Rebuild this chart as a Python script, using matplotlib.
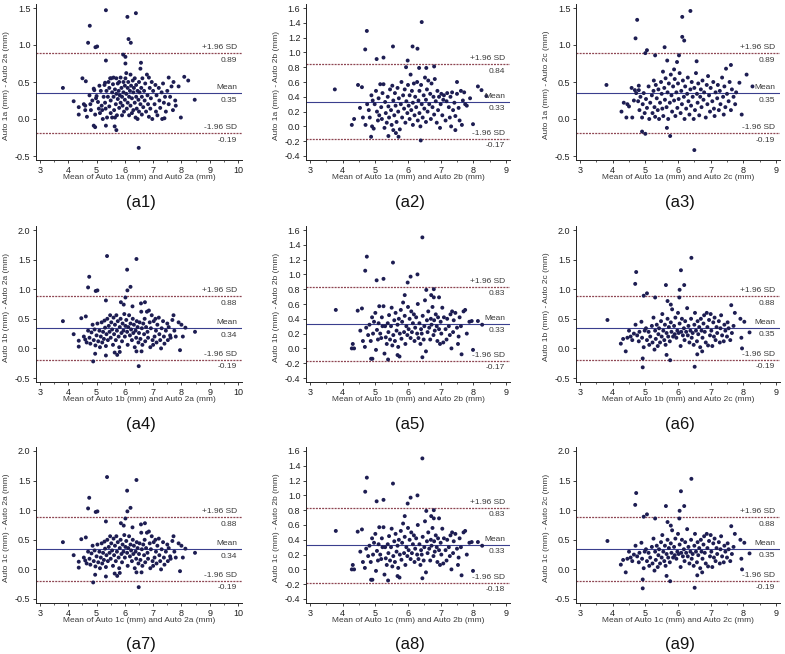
import matplotlib
matplotlib.use('Agg')
import matplotlib.pyplot as plt
import numpy as np
from matplotlib.ticker import MultipleLocator

plt.rcParams['font.family'] = ['Liberation Sans', 'DejaVu Sans']
plt.rcParams['axes.unicode_minus'] = False

# ---------------- data ----------------
panel_names = ['(a1)', '(a2)', '(a3)', '(a4)', '(a5)', '(a6)', '(a7)', '(a8)', '(a9)']
x_labels = ['Mean of Auto 1a (mm) and Auto 2a (mm)', 'Mean of Auto 1a (mm) and Auto 2b (mm)',
            'Mean of Auto 1a (mm) and Auto 2c (mm)', 'Mean of Auto 1b (mm) and Auto 2a (mm)',
            'Mean of Auto 1b (mm) and Auto 2b (mm)', 'Mean of Auto 1b (mm) and Auto 2c (mm)',
            'Mean of Auto 1c (mm) and Auto 2a (mm)', 'Mean of Auto 1c (mm) and Auto 2b (mm)',
            'Mean of Auto 1c (mm) and Auto 2c (mm)']
y_labels = ['Auto 1a (mm) - Auto 2a (mm)', 'Auto 1a (mm) - Auto 2b (mm)', 'Auto 1a (mm) - Auto 2c (mm)',
            'Auto 1b (mm) - Auto 2a (mm)', 'Auto 1b (mm) - Auto 2b (mm)', 'Auto 1b (mm) - Auto 2c (mm)',
            'Auto 1c (mm) - Auto 2a (mm)', 'Auto 1c (mm) - Auto 2b (mm)', 'Auto 1c (mm) - Auto 2c (mm)']
mean_vals = [0.35, 0.33, 0.35, 0.34, 0.33, 0.35, 0.34, 0.33, 0.35]
upper_vals = [0.89, 0.84, 0.89, 0.88, 0.83, 0.88, 0.88, 0.83, 0.88]
lower_vals = [-0.19, -0.17, -0.19, -0.19, -0.17, -0.19, -0.19, -0.18, -0.19]
x_tick_max = [10, 9, 9, 10, 9, 9, 10, 9, 9]
y_tick_min = [-0.5, -0.4, -0.5, -0.5, -0.4, -0.5, -0.5, -0.4, -0.5]
y_tick_max = [1.5, 1.6, 1.5, 2.0, 1.6, 2.0, 2.0, 1.6, 2.0]
y_tick_step = [0.5, 0.2, 0.5, 0.5, 0.2, 0.5, 0.5, 0.2, 0.5]

pts_a1 = [(5.33,1.47),(6.09,1.38),(6.39,1.43),(4.76,1.26),(6.13,1.08),(6.21,1.03),(4.70,1.03),(4.96,0.97),
          (5.02,0.98),(5.94,0.87),(5.33,0.79),(6.02,0.84),(6.02,0.75),(6.57,0.76),(3.81,0.42),(8.47,0.26),
          (7.98,0.02),(8.10,0.57),(8.24,0.52),(6.49,-0.39),(5.70,-0.15),(5.64,-0.10),(4.90,-0.09),(4.95,-0.11),
          (5.33,-0.09),(4.50,0.55),(4.62,0.51),(4.19,0.24),(4.37,0.16),(4.37,0.06),(4.66,0.03),
          (4.55,0.2),(4.6,0.18),(4.6,0.12),(4.75,0.32),(4.78,0.2),(4.8,0.12),(4.85,0.25),(4.9,0.41),(4.92,0.39),
          (4.95,0.06),(4.98,0.28),(5.0,0.31),(5.05,0.23),(5.08,0.14),(5.1,0.45),(5.12,0.08),(5.15,0.38),
          (5.18,0.18),(5.2,0.12),(5.22,0.0),(5.25,0.3),(5.28,0.46),(5.3,0.49),(5.3,0.22),(5.32,0.14),
          (5.35,0.38),(5.37,0.02),(5.4,0.3),(5.42,0.5),(5.45,0.42),(5.45,0.17),(5.48,0.55),(5.5,0.25),
          (5.5,0.08),(5.52,0.55),(5.55,0.36),(5.55,0.02),(5.58,0.47),(5.6,0.3),(5.6,0.56),(5.62,0.12),
          (5.65,0.4),(5.65,0.02),(5.68,0.2),(5.7,0.55),(5.7,0.34),(5.72,0.05),(5.75,0.48),(5.75,0.27),
          (5.78,0.38),(5.8,0.15),(5.8,0.5),(5.82,0.32),(5.85,0.56),(5.85,0.22),(5.88,0.42),(5.9,0.3),
          (5.9,0.05),(5.92,0.18),(5.95,0.5),(5.95,0.36),(5.97,0.1),(6.0,0.45),(6.0,0.26),(6.02,0.55),
          (6.05,0.34),(6.05,0.62),(6.07,0.14),(6.1,0.42),(6.1,0.22),(6.12,0.5),(6.15,0.3),(6.15,0.05),
          (6.18,0.38),(6.2,0.18),(6.2,0.6),(6.22,0.45),(6.25,0.28),(6.25,0.08),(6.28,0.52),(6.3,0.36),
          (6.3,0.12),(6.32,0.42),(6.35,0.22),(6.35,0.55),(6.38,0.02),(6.4,0.3),(6.4,0.46),(6.42,0.14),
          (6.45,0.38),(6.45,0.0),(6.48,0.26),(6.5,0.5),(6.5,0.1),(6.52,0.36),(6.55,0.2),(6.55,0.68),
          (6.58,0.42),(6.6,0.3),(6.6,0.06),(6.62,0.55),(6.65,0.16),(6.68,0.38),(6.7,0.25),(6.72,0.48),
          (6.75,0.1),(6.78,0.6),(6.8,0.32),(6.82,0.2),(6.85,0.56),(6.85,0.03),(6.88,0.42),(6.9,0.14),
          (6.92,0.28),(6.95,0.5),(6.97,0.0),(7.0,0.38),(7.05,0.2),(7.08,0.46),(7.1,0.1),(7.12,0.32),
          (7.15,0.05),(7.2,0.42),(7.22,0.25),(7.25,0.15),(7.3,0.36),(7.32,0.0),(7.35,0.48),(7.38,0.22),
          (7.4,0.01),(7.42,0.3),(7.45,0.1),(7.5,0.38),(7.55,0.56),(7.55,0.2),(7.6,0.3),(7.65,0.44),
          (7.7,0.12),(7.72,0.5),(7.78,0.25),(7.8,0.18),(7.9,0.44)]

pts_a2 = [(6.42,1.41),(4.74,1.29),(4.69,1.04),(5.54,1.08),(6.14,1.08),(6.29,1.05),(5.04,0.91),(5.25,0.93),
          (5.99,0.89),(5.94,0.80),(6.34,0.79),(6.56,0.79),(6.80,0.81),(3.76,0.50),(8.14,0.54),(8.25,0.49),
          (8.40,0.41),(7.99,0.03),(6.39,-0.19),(4.87,-0.14),(5.40,-0.13),(5.71,-0.14),(5.63,-0.09),(4.28,0.02),
          (4.35,0.10),(4.47,0.56),(4.59,0.53),(4.53,0.25),(7.50,0.60),(7.65,0.02),(7.45,-0.05),
          (4.62,0.12),(4.7,0.02),(4.75,0.3),(4.8,0.22),(4.83,0.12),(4.88,0.42),(4.9,0.0),(4.92,0.35),
          (4.95,-0.03),(4.98,0.3),(5.02,0.48),(5.05,0.2),(5.08,0.08),(5.1,0.38),(5.12,0.15),(5.15,0.57),
          (5.18,0.26),(5.2,0.1),(5.22,0.45),(5.25,0.57),(5.28,-0.02),(5.3,0.33),(5.32,0.18),(5.35,0.05),
          (5.38,0.4),(5.4,0.27),(5.42,0.12),(5.45,0.5),(5.48,0.22),(5.5,0.02),(5.52,0.55),(5.55,0.35),
          (5.55,-0.05),(5.58,0.15),(5.6,0.45),(5.62,0.28),(5.65,0.06),(5.68,0.52),(5.7,0.2),(5.72,0.38),
          (5.75,-0.04),(5.78,0.3),(5.8,0.6),(5.82,0.12),(5.85,0.42),(5.88,0.24),(5.9,0.5),(5.92,0.05),
          (5.95,0.34),(5.98,0.18),(6.0,0.56),(6.02,0.28),(6.05,0.42),(6.05,0.1),(6.08,0.7),(6.1,0.22),
          (6.12,0.48),(6.15,0.32),(6.15,0.02),(6.18,0.58),(6.2,0.15),(6.22,0.4),(6.25,0.26),(6.28,0.6),
          (6.3,0.08),(6.32,0.35),(6.35,0.48),(6.35,0.18),(6.38,0.0),(6.4,0.56),(6.42,0.3),(6.45,0.12),
          (6.48,0.42),(6.5,0.24),(6.52,0.66),(6.55,0.36),(6.55,0.06),(6.58,0.5),(6.6,0.2),(6.62,0.62),
          (6.65,0.3),(6.68,0.44),(6.7,0.1),(6.72,0.58),(6.75,0.26),(6.78,0.4),(6.8,0.16),(6.82,0.64),
          (6.85,0.34),(6.88,0.05),(6.9,0.48),(6.92,0.22),(6.95,0.4),(6.98,-0.02),(7.0,0.3),(7.02,0.44),
          (7.05,0.15),(7.08,0.36),(7.1,0.42),(7.15,0.08),(7.18,0.34),(7.2,0.45),(7.25,0.26),(7.28,0.12),
          (7.3,0.4),(7.32,0.0),(7.35,0.46),(7.38,0.22),(7.42,0.32),(7.45,0.14),(7.5,0.44),(7.55,0.25),
          (7.58,0.08),(7.62,0.48),(7.68,0.35),(7.72,0.46),(7.75,0.3),(7.8,0.28),(7.9,0.38)]

pts_a3 = [(4.75,1.34),(4.70,1.09),(6.13,1.38),(6.38,1.46),(6.13,1.11),(6.19,1.06),(5.59,0.97),(5.00,0.89),
          (5.05,0.93),(5.30,0.86),(6.03,0.86),(5.67,0.79),(5.97,0.77),(3.81,0.46),(4.58,0.42),(4.68,0.39),
          (4.80,0.45),(4.80,0.39),(6.50,-0.42),(5.76,-0.23),(5.66,-0.12),(4.90,-0.17),(5.00,-0.20),(7.95,0.06),
          (4.42,0.02),(4.27,0.10),(4.34,0.22),(8.10,0.60),(8.28,0.44),(7.88,0.49),(7.62,0.73),(7.47,0.68),
          (7.75,0.20),(6.57,0.78),(5.54,0.64),(5.88,0.67),(5.26,0.52),
          (4.45,0.2),(4.5,0.17),(4.6,0.02),(4.65,0.25),(4.72,0.35),(4.78,0.24),(4.82,0.12),(4.85,0.3),
          (4.9,0.02),(4.92,0.2),(4.95,0.35),(4.98,0.08),(5.02,0.27),(5.05,0.15),(5.1,0.44),(5.12,0.0),
          (5.15,0.22),(5.2,0.32),(5.22,0.08),(5.25,0.38),(5.28,0.16),(5.3,0.03),(5.32,0.46),(5.35,0.28),
          (5.38,0.12),(5.4,0.4),(5.42,0.0),(5.45,0.22),(5.48,0.5),(5.5,0.34),(5.52,0.14),(5.55,0.04),
          (5.58,0.42),(5.6,0.26),(5.62,0.55),(5.65,0.16),(5.68,0.36),(5.7,0.0),(5.72,0.48),(5.75,0.22),
          (5.78,0.6),(5.8,0.32),(5.82,0.1),(5.85,0.44),(5.88,0.25),(5.9,0.54),(5.92,0.04),(5.95,0.36),
          (5.98,0.15),(6.0,0.48),(6.02,0.27),(6.05,0.62),(6.08,0.08),(6.1,0.38),(6.12,0.2),(6.15,0.52),
          (6.18,0.3),(6.2,0.0),(6.22,0.44),(6.25,0.14),(6.28,0.34),(6.3,0.56),(6.32,0.24),(6.35,0.06),
          (6.38,0.4),(6.4,0.18),(6.42,0.5),(6.45,0.3),(6.48,0.0),(6.5,0.42),(6.52,0.12),(6.55,0.62),
          (6.58,0.34),(6.6,0.22),(6.62,0.48),(6.65,0.05),(6.68,0.3),(6.7,0.4),(6.72,0.16),(6.75,0.52),
          (6.78,0.26),(6.8,0.36),(6.85,0.02),(6.88,0.46),(6.9,0.2),(6.92,0.58),(6.95,0.32),(6.98,0.1),
          (7.0,0.42),(7.05,0.24),(7.08,0.5),(7.1,0.14),(7.12,0.04),(7.15,0.36),(7.2,0.28),(7.22,0.46),
          (7.25,0.12),(7.28,0.38),(7.3,0.2),(7.35,0.56),(7.38,0.3),(7.4,0.06),(7.42,0.44),(7.45,0.16),
          (7.5,0.34),(7.55,0.24),(7.58,0.5),(7.62,0.12),(7.65,0.4),(7.7,0.3),(7.78,0.36)]

pts_a4 = [(5.37,1.56),(6.41,1.51),(6.08,1.33),(4.74,1.21),(4.70,1.03),(4.97,0.97),(5.03,0.98),(6.09,0.98),
          (6.20,1.04),(6.02,0.86),(5.33,0.81),(5.86,0.78),(5.96,0.74),(6.27,0.71),(6.57,0.76),(6.71,0.78),
          (3.81,0.46),(8.48,0.28),(8.14,0.35),(7.95,-0.03),(6.49,-0.30),(4.88,-0.22),(4.95,-0.09),(5.33,-0.12),
          (5.64,-0.07),(5.73,-0.11),(5.82,-0.06),(6.41,-0.05),(6.59,-0.05),(4.19,0.24),(4.37,0.13),(4.37,0.03),
          (4.46,0.51),(4.62,0.54),(8.05,0.20),
          (4.55,0.2),(4.6,0.15),(4.65,0.1),(4.7,0.3),(4.75,0.18),(4.78,0.08),(4.82,0.27),(4.86,0.4),(4.9,0.14),
          (4.93,0.32),(4.96,0.05),(5.0,0.22),(5.03,0.42),(5.06,0.12),(5.1,0.3),(5.12,0.02),(5.15,0.2),
          (5.18,0.44),(5.2,0.1),(5.23,0.28),(5.26,0.16),(5.28,0.47),(5.3,0.35),(5.33,0.04),(5.35,0.24),
          (5.38,0.5),(5.4,0.14),(5.43,0.38),(5.46,0.28),(5.48,0.56),(5.5,0.18),(5.52,0.44),(5.55,0.32),
          (5.58,0.06),(5.6,0.52),(5.62,0.24),(5.65,0.4),(5.68,0.14),(5.7,0.56),(5.72,0.3),(5.75,0.46),
          (5.78,0.2),(5.8,0.02),(5.82,0.36),(5.85,0.5),(5.88,0.26),(5.9,0.12),(5.92,0.42),(5.95,0.3),
          (5.98,0.58),(6.0,0.2),(6.02,0.38),(6.05,0.48),(6.08,0.28),(6.1,0.06),(6.12,0.36),(6.15,0.56),
          (6.18,0.22),(6.2,0.42),(6.22,0.32),(6.25,0.14),(6.28,0.5),(6.3,0.26),(6.32,0.4),(6.35,0.02),
          (6.38,0.3),(6.4,0.18),(6.42,0.46),(6.45,0.36),(6.48,0.1),(6.5,0.26),(6.52,0.44),(6.55,0.16),
          (6.58,0.62),(6.6,0.34),(6.62,0.06),(6.65,0.42),(6.68,0.24),(6.7,0.5),(6.72,0.12),(6.75,0.36),
          (6.78,0.62),(6.8,0.28),(6.82,0.18),(6.85,0.64),(6.88,0.44),(6.9,0.02),(6.92,0.34),(6.95,0.56),
          (6.98,0.14),(7.0,0.06),(7.02,0.46),(7.05,0.2),(7.08,0.5),(7.1,0.3),(7.12,0.1),(7.15,0.4),
          (7.2,0.52),(7.22,0.24),(7.25,0.14),(7.28,0.0),(7.3,0.34),(7.35,0.46),(7.38,0.2),(7.4,0.08),
          (7.45,0.3),(7.5,0.42),(7.52,0.14),(7.55,0.36),(7.6,0.22),(7.62,0.18),(7.68,0.48),(7.72,0.56),
          (7.75,0.3),(7.8,0.2),(7.9,0.44),(8.0,0.4)]

pts_a5 = [(6.44,1.50),(4.74,1.24),(4.69,1.05),(5.54,1.16),(5.04,0.92),(5.25,0.94),(6.08,0.97),(6.29,1.00),
          (5.99,0.89),(5.90,0.72),(6.56,0.79),(6.79,0.80),(6.71,0.72),(6.79,0.69),(6.95,0.69),(3.79,0.52),
          (8.14,0.37),(8.27,0.32),(7.99,-0.02),(6.44,-0.12),(4.87,-0.14),(4.91,-0.14),(5.39,-0.15),(5.68,-0.09),
          (5.74,-0.11),(4.28,0.00),(4.35,0.00),(4.31,0.06),(4.46,0.51),(4.59,0.54),(4.54,0.24),(7.64,-0.08),
          (7.33,0.00),(7.53,0.06),
          (4.62,0.1),(4.68,0.02),(4.72,0.28),(4.78,0.18),(4.82,0.32),(4.86,0.1),(4.9,0.42),(4.93,0.2),
          (4.96,0.36),(5.0,0.48),(5.02,-0.02),(5.05,0.25),(5.08,0.12),(5.1,0.34),(5.12,0.57),(5.15,0.2),
          (5.18,0.14),(5.2,0.42),(5.22,0.3),(5.25,0.57),(5.28,-0.07),(5.3,0.3),(5.32,0.15),(5.35,0.06),
          (5.38,0.34),(5.4,0.22),(5.42,0.45),(5.45,0.12),(5.48,0.3),(5.5,0.55),(5.52,0.04),(5.55,0.18),
          (5.58,0.38),(5.6,0.1),(5.62,0.48),(5.65,0.24),(5.68,0.32),(5.7,0.02),(5.72,0.4),(5.75,0.2),
          (5.78,0.52),(5.8,0.13),(5.82,0.36),(5.85,0.62),(5.88,0.22),(5.9,0.44),(5.92,0.06),(5.95,0.3),
          (5.98,0.18),(6.0,0.56),(6.02,0.26),(6.05,0.4),(6.08,0.14),(6.1,0.5),(6.12,0.22),(6.15,0.34),
          (6.18,0.46),(6.2,0.1),(6.22,0.28),(6.25,0.42),(6.28,0.2),(6.3,0.6),(6.32,0.14),(6.35,0.34),
          (6.38,0.06),(6.4,0.26),(6.42,0.2),(6.45,0.44),(6.48,0.12),(6.5,0.3),(6.52,0.65),(6.55,-0.04),
          (6.58,0.38),(6.6,0.22),(6.62,0.5),(6.65,0.28),(6.68,0.12),(6.7,0.4),(6.72,0.32),(6.75,0.56),
          (6.78,0.18),(6.8,0.38),(6.82,0.24),(6.85,0.46),(6.88,0.3),(6.9,0.1),(6.92,0.42),(6.95,0.26),
          (6.98,0.06),(7.0,0.36),(7.02,0.2),(7.05,0.55),(7.08,0.08),(7.1,0.42),(7.15,0.26),(7.18,0.12),
          (7.2,0.4),(7.25,0.3),(7.28,0.18),(7.3,0.46),(7.35,0.5),(7.38,0.22),(7.4,0.38),(7.45,0.48),
          (7.5,0.28),(7.55,0.16),(7.58,0.42),(7.62,0.3),(7.7,0.5),(7.75,0.52),(7.8,0.2),(7.88,0.36),
          (7.95,0.37)]

pts_a6 = [(4.72,1.29),(4.69,1.09),(6.41,1.53),(6.09,1.32),(6.19,1.07),(5.63,1.07),(4.95,0.89),(5.05,0.93),
          (5.30,0.86),(6.04,0.86),(6.05,0.99),(5.68,0.80),(5.78,0.74),(3.84,0.48),(8.19,0.27),(7.94,0.18),
          (7.96,0.00),(6.51,-0.31),(4.92,-0.17),(4.92,-0.32),(5.76,-0.20),(5.65,-0.11),(4.40,-0.05),(4.25,0.08),
          (4.32,0.16),(7.63,0.73),(7.74,0.60),(7.91,0.50),(8.03,0.45),(6.59,-0.10),(6.74,-0.05),
          (4.45,0.18),(4.5,0.3),(4.55,0.2),(4.6,0.14),(4.65,0.25),(4.7,0.4),(4.75,0.22),(4.8,0.12),
          (4.82,0.28),(4.88,0.45),(4.9,0.18),(4.95,0.02),(4.98,0.3),(5.02,0.34),(5.05,0.14),(5.1,0.28),
          (5.12,0.06),(5.15,0.2),(5.2,0.38),(5.22,0.1),(5.25,0.52),(5.28,-0.02),(5.3,0.3),(5.32,0.16),
          (5.35,0.4),(5.38,0.04),(5.4,0.24),(5.42,0.34),(5.45,0.1),(5.48,0.46),(5.5,0.2),(5.52,0.58),
          (5.55,0.3),(5.58,0.14),(5.6,0.4),(5.62,0.06),(5.65,0.26),(5.68,0.5),(5.7,0.2),(5.72,0.36),
          (5.75,0.12),(5.78,0.44),(5.8,0.28),(5.82,0.66),(5.85,0.2),(5.88,0.38),(5.9,0.24),(5.92,0.52),
          (5.95,0.18),(5.98,0.3),(6.0,0.6),(6.02,0.26),(6.05,0.42),(6.08,0.04),(6.1,0.28),(6.12,0.5),
          (6.15,0.22),(6.18,0.34),(6.2,0.14),(6.22,0.46),(6.25,0.28),(6.28,0.68),(6.3,0.22),(6.32,0.38),
          (6.35,0.1),(6.38,0.3),(6.4,0.5),(6.42,0.18),(6.45,0.26),(6.48,0.06),(6.5,0.4),(6.52,0.6),
          (6.55,0.3),(6.58,0.12),(6.6,0.46),(6.62,0.24),(6.65,0.36),(6.68,0.02),(6.7,0.5),(6.72,0.3),
          (6.75,0.18),(6.78,0.42),(6.8,0.56),(6.82,0.28),(6.85,0.1),(6.88,0.6),(6.9,0.36),(6.92,0.05),
          (6.95,0.48),(6.98,0.22),(7.0,0.58),(7.02,0.3),(7.05,0.04),(7.08,0.44),(7.1,0.2),(7.12,0.52),
          (7.15,0.14),(7.18,0.36),(7.2,0.26),(7.25,0.46),(7.28,0.1),(7.3,0.34),(7.32,0.56),(7.35,0.22),
          (7.4,0.12),(7.42,0.4),(7.45,0.3),(7.5,0.2),(7.52,0.44),(7.55,0.34),(7.6,0.14),(7.65,0.26),
          (7.7,0.38)]

# rows 2 and 3 show the same scatter in the reference
panel_points = [pts_a1, pts_a2, pts_a3, pts_a4, pts_a5, pts_a6, pts_a4, pts_a5, pts_a6]

# ---------------- layout ----------------
W, H = 785, 654
col_px = [(36, 242), (306, 510), (576, 780)]
row_px = [(4, 160), (226, 382), (447, 603)]

point_color = '#1d1d52'
mean_color = '#3a3f8e'
sd_color = '#8e4652'
text_color = '#3a3a3a'

fig = plt.figure(figsize=(W / 100, H / 100), dpi=100)

for i in range(9):
    r, c = divmod(i, 3)
    l, rr = col_px[c]
    t, b = row_px[r]
    wpx, hpx = rr - l, b - t
    ax = fig.add_axes([l / W, 1 - b / H, wpx / W, hpx / H])

    xmax = x_tick_max[i]
    dx = 4 * (xmax - 3) / (wpx - 8)
    ax.set_xlim(3 - dx, xmax + dx)
    ymin, ymax, ystep = y_tick_min[i], y_tick_max[i], y_tick_step[i]
    dy = 4 * (ymax - ymin) / (hpx - 8)
    ax.set_ylim(ymin - dy, ymax + dy)

    xt = np.arange(3, xmax + 0.01, 1)
    ax.set_xticks(xt)
    ax.set_xticklabels([f'{v:d}' for v in xt.astype(int)])
    ax.xaxis.set_minor_locator(MultipleLocator(0.5))
    n = int(round((ymax - ymin) / ystep)) + 1
    yt = [ymin + k * ystep for k in range(n)]
    ax.set_yticks(yt)
    ax.set_yticklabels([f'{v:.1f}'.replace('-0.0', '0.0') for v in yt])

    for s in ['top', 'right']:
        ax.spines[s].set_visible(False)
    for s in ['left', 'bottom']:
        ax.spines[s].set_color('#222222')
        ax.spines[s].set_linewidth(0.7)
    ax.tick_params(axis='both', which='major', direction='out', length=2.5, width=0.6,
                   labelsize=6.5, pad=1.5, colors='#222222', labelcolor='#222222')
    ax.tick_params(axis='x', which='minor', direction='out', length=1.5, width=0.5, colors='#222222')

    pts = np.array(panel_points[i])
    ax.scatter(pts[:, 0], pts[:, 1], s=8, color=point_color, edgecolors='none', zorder=3)

    ax.axhline(mean_vals[i], color=mean_color, lw=0.8, zorder=2)
    ax.axhline(upper_vals[i], color=sd_color, lw=0.9, ls=(0, (1.6, 0.9)), zorder=2)
    ax.axhline(lower_vals[i], color=sd_color, lw=0.9, ls=(0, (1.6, 0.9)), zorder=2)

    for yv, lab in [(upper_vals[i], '+1.96 SD'), (mean_vals[i], 'Mean'), (lower_vals[i], '-1.96 SD')]:
        ax.annotate(lab, xy=(1.0, yv), xycoords=('axes fraction', 'data'), xytext=(-3.5, 1.5),
                    textcoords='offset points', ha='right', va='bottom', fontsize=6, color=text_color)
        ax.annotate(f'{yv:.2f}', xy=(1.0, yv), xycoords=('axes fraction', 'data'), xytext=(-3.5, -2.5),
                    textcoords='offset points', ha='right', va='top', fontsize=6, color=text_color)

    ax.set_xlabel(x_labels[i], fontsize=6, color=text_color)
    ax.xaxis.set_label_coords(0.5, -14 / hpx)
    ax.set_ylabel(y_labels[i], fontsize=6, color=text_color)
    ax.yaxis.set_label_coords(-30 / wpx, 0.48)
    ax.yaxis.label.set_va('center')

    fig.text((l + wpx / 2 + 2) / W, 1 - (b + 42) / H, panel_names[i], ha='center', va='center',
             fontsize=12, color='#111111')

fig.savefig('out.png', dpi=100)
